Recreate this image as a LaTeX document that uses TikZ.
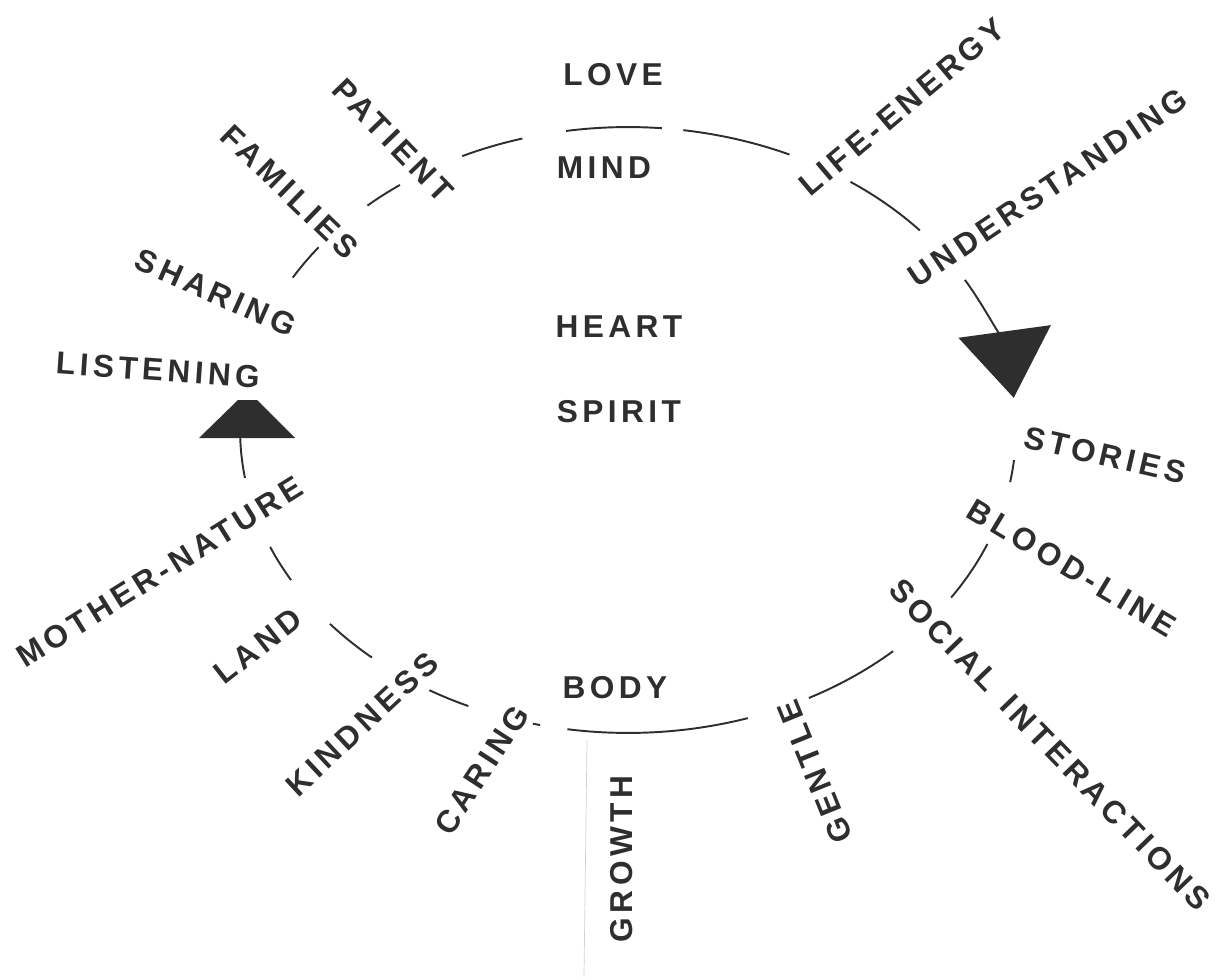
\documentclass[tikz,border=0pt]{standalone}
\usepackage{fontspec}
\usetikzlibrary{arrows.meta}
\newfontfamily\ringfont{Liberation Sans}[LetterSpace=14]
\definecolor{cink}{HTML}{2E2E2E}
\tikzset{
  every picture/.style={x=0.02cm, y=0.02cm},
  word/.style={text=cink, inner sep=1pt, font=\ringfont\bfseries\fontsize{18}{20}\selectfont},
  ring/.style={draw=cink, line width=1.1pt},
}
\begin{document}
\begin{tikzpicture}
  \useasboundingbox (0,0) rectangle (1218,-980);
  \coordinate (c) at (628,-430);
  % inner words
  \node[word] (love)   at (613,-75)  {LOVE};
  \node[word] (mind)   at (604,-168) {MIND};
  \node[word] (heart)  at (619,-327) {HEART};
  \node[word] (spirit) at (619,-412) {SPIRIT};
  \node[word] (body)   at (615,-688) {BODY};
  % words round the ring
  \node[word, rotate=-46] (patient)  at (393,-140) {PATIENT};
  \node[word, rotate=-44] (families) at (290,-192) {FAMILIES};
  \node[word, rotate=-24] (sharing)  at (216,-293) {SHARING};
  \node[word, rotate=-4]  (listening) at (158,-370) {LISTENING};
  \node[word, rotate=32]  (mother)   at (160,-572) {MOTHER-NATURE};
  \node[word, rotate=38]  (land)     at (258,-646) {LAND};
  \node[word, rotate=43]  (kindness) at (362,-724) {KINDNESS};
  \node[word, rotate=57]  (caring)   at (482,-770) {CARING};
  \node[word, rotate=90]  (growth)   at (622,-859) {GROWTH};
  \node[word, rotate=112] (gentle)   at (815,-772) {GENTLE};
  \node[word, rotate=-46] (social)   at (1050,-745) {SOCIAL\hspace{0.6em}INTERACTIONS};
  \node[word, rotate=-31] (blood)    at (1072,-568) {BLOOD-LINE};
  \node[word, rotate=-13] (stories)  at (1105,-455) {STORIES};
  \node[word, rotate=34]  (understanding) at (1048,-188) {UNDERSTANDING};
  \node[word, rotate=40]  (life)     at (902,-107) {LIFE-ENERGY};
  % the ring, in pieces between the words
  \foreach \a/\b in {115.3/105.8, 99.2/85, 81.8/65.4, 55/41.2, -5.7/-9.9,
                     -22.1/-33.6, -46.9/-62.2, -72/-99, -103.1/-104.2,
                     -114.3/-120.8, -131.3/-140.2, -150.3/-157.3,
                     149.8/142.9, 132.2/126}
    \draw[ring] (c) ++(\a:7.76cm and 6.06cm)
      arc[start angle=\a, end angle=\b, x radius=7.76cm, y radius=6.06cm];
  % arrows
  \draw[ring, -{Triangle[length=1.34cm, width=1.86cm]}] (c) ++(29.7:7.76cm and 6.06cm)
    arc[start angle=29.7, end angle=6.1, x radius=7.76cm, y radius=6.06cm];
  \draw[ring] (c) ++(189.1:7.76cm and 6.06cm)
    arc[start angle=189.1, end angle=181.5, x radius=7.76cm, y radius=6.06cm];
  \fill[cink] (199,-438) -- (295,-438) -- (257,-400) -- (238,-400) -- cycle;
  \draw[gray!35, line width=0.4pt] (587,-740) -- (584,-977);
\end{tikzpicture}
\end{document}
